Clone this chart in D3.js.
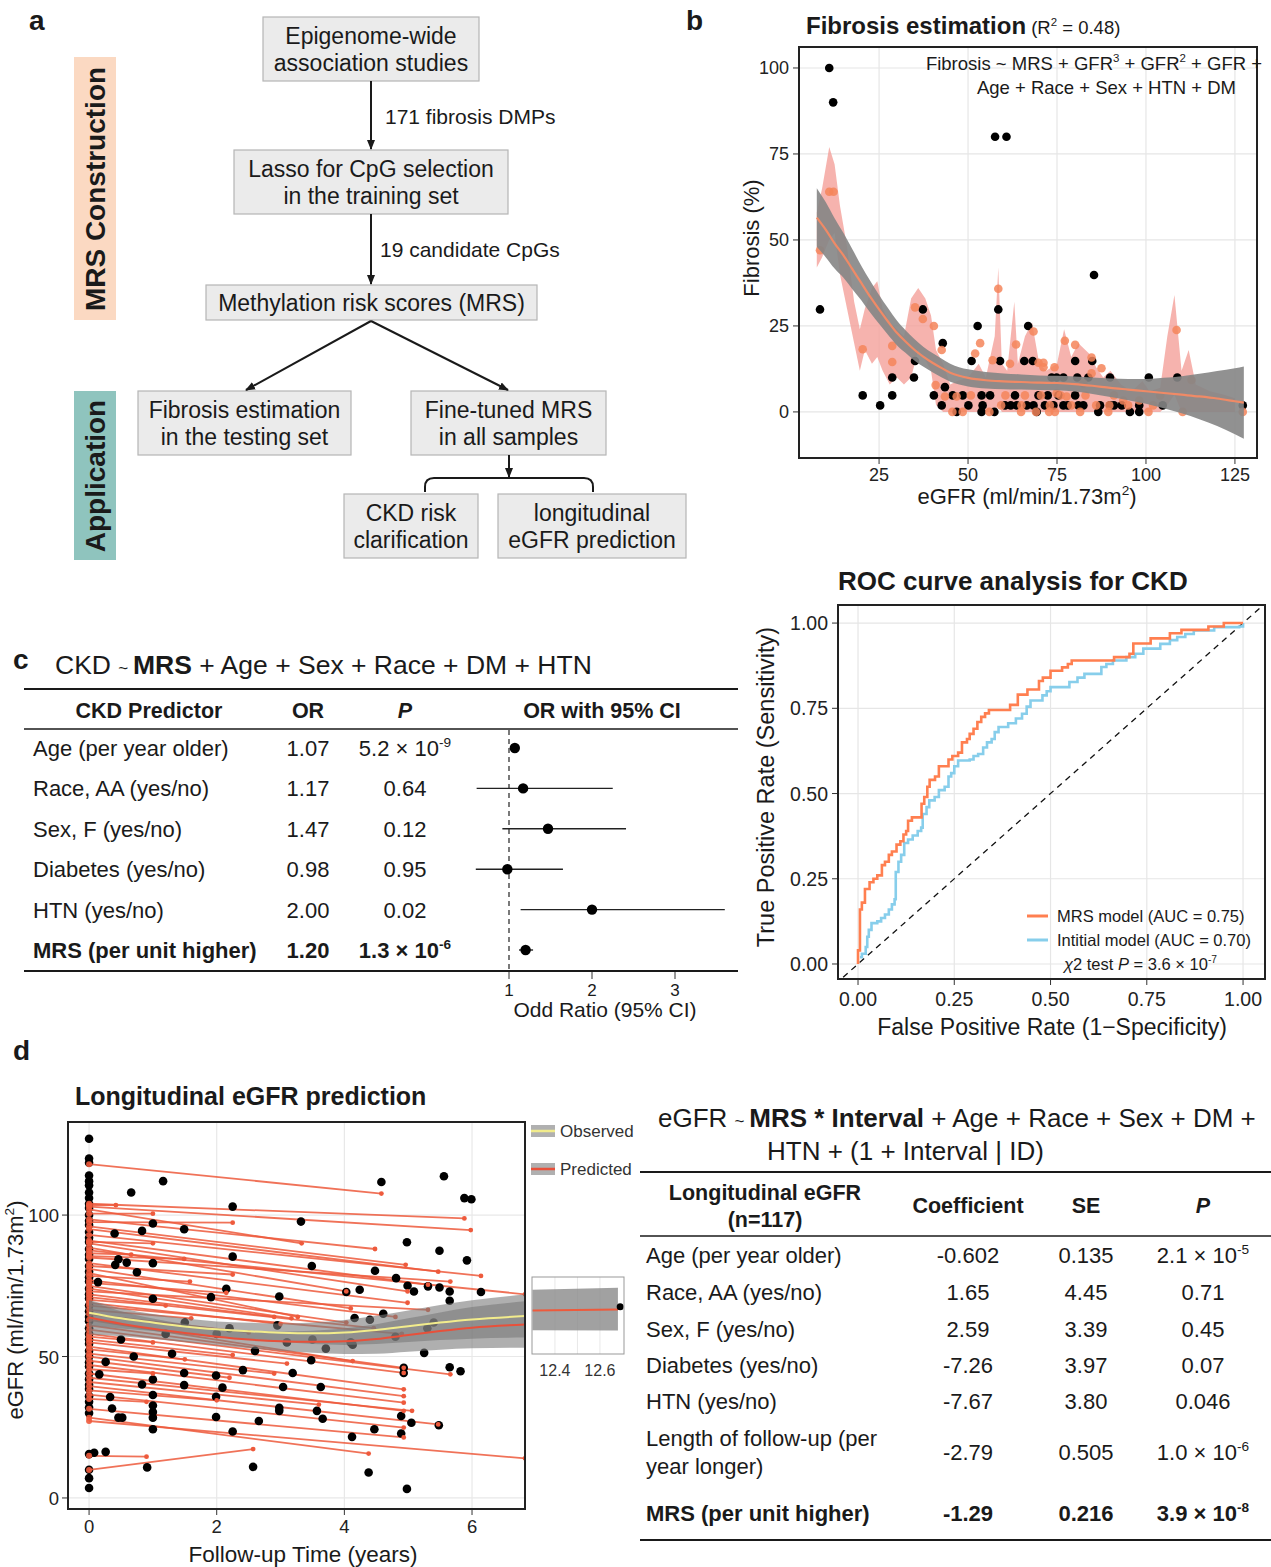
<!DOCTYPE html>
<html>
<head>
<meta charset="utf-8">
<title>MRS figure</title>
<script src="https://d3js.org/d3.v7.min.js"></script>
<style>
  body { margin: 0; background: #fff; }
  svg { display: block; font-family: "Liberation Sans", Arial, Helvetica, sans-serif; }
</style>
</head>
<body>
<svg id="fig"></svg>
<script>
// ---------- panel a: flow chart text ----------
var flowSteps = [
  ["Epigenome-wide", "association studies"],
  ["Lasso for CpG selection", "in the training set"],
  ["Methylation risk scores (MRS)"],
  ["Fibrosis estimation", "in the testing set"],
  ["Fine-tuned MRS", "in all samples"],
  ["CKD risk", "clarification"],
  ["longitudinal", "eGFR prediction"]
];
var flowNotes = ["171 fibrosis DMPs", "19 candidate CpGs"];

// ---------- panel b: fibrosis estimation ----------
var fibObsEgfr = [11, 12.1, 8.4, 57.6, 60.8, 85.4, 20.4, 25.3, 28.7, 28.7, 35.1, 34.8, 37.3, 40.4, 42.6, 42.9,
  43.5, 45.7, 46.8, 48.5, 50.1, 51, 52.7, 53.8, 54.1, 53.8, 56.2, 57.4, 58.5, 59, 60.4, 63.2, 63.7, 65.8, 66.9, 68.2,
  68.4, 69.3, 69.8, 71.6, 72.4, 73.5, 74.9, 75.4, 76.8, 76.8, 80.1, 80.1, 80.7, 82.4, 83.8, 84.9, 86.6, 87.1, 89.9, 89.9,
  93.2, 95.5, 98.1, 98.1, 100.8, 104.7, 108.8, 127.2, 62, 66.5, 74, 78, 81, 91];
var fibObsPct = [100, 90, 29.8, 80, 80, 39.8, 4.8, 1.9, 4.8, 10, 14.8, 10, 29.8, 4.8, 1.9, 20,
  7.2, 4.8, 0, 4.8, 1.9, 14.8, 25, 4.8, 1.9, 0, 4.8, 0, 29.8, 14.8, 1.9, 4.8, 1.9, 14.8, 25, 14.8,
  1.9, 0, 4.8, 1.9, 4.8, 10, 10, 4.8, 10, 1.9, 14.8, 4.8, 10, 1.9, 10, 14.8, 0, 1.9, 10, 1.9,
  1.9, 0, 0, 1.9, 10, 1.9, 10, 1.9, 1.9, 1.9, 1.9, 1.9, 1.9, 1.9];
var fibPredEgfr = [8.4, 11, 12.2, 20.4, 28.7, 28.7, 35.1, 37.3, 40.4, 40.9, 42.6, 43.5, 45.6, 46.8, 48.5, 50.8, 52, 53.4, 56, 56.9,
  58.5, 59.3, 61.8, 63.5, 64.9, 66, 68.4, 69.1, 69.8, 71.2, 71.2, 72.8, 74.3, 74.4, 74.9, 77.2, 77.7, 80.1, 81.5, 82.4,
  84.7, 84.7, 87.5, 89.4, 89.7, 93.6, 98.1, 100.7, 108.6, 110.3, 112.8, 127.2,
  60.5, 65, 70.5, 73, 76, 79, 83, 86, 91, 95, 102, 104];
var fibPredPct = [47, 64, 64, 18.2, 19.2, 14.5, 30.4, 27, 25, 7.8, 18, 4.5, 0, 4.5, 0, 4.8, 17, 20, 0, 15,
  35.8, 1.9, 14, 19.6, 0, 4.8, 23.4, 0, 14.3, 14.3, 13, 0, 13, 0, 5.4, 20.7, 4.5, 19.5, 0, 8.3,
  15.8, 11.2, 12.7, 0, 1.9, 3.3, 3.3, 0, 23.8, 0, 9.3, 0,
  4.8, 1.9, 4.8, 1.9, 4.8, 1.9, 4.8, 1.9, 4.8, 1.9, 1.9, 4.8];
// jagged confidence ribbon of the per-sample prediction
var ribbonEgfr = [7.5, 9, 11, 12.5, 14, 16, 18, 19.6, 21, 23, 24.5, 26, 28, 30, 32, 34, 36, 38, 39.6, 41, 43, 45, 47, 50, 53, 55,
  57.5, 58.5, 59.5, 61, 63, 64, 66, 68, 70, 72, 75, 77, 79, 81, 84, 86, 88, 90, 93, 96, 99, 101, 104, 106, 108, 110, 112, 114, 118, 122, 125];
var ribbonLo = [42, 45, 50, 52, 40, 30, 20, 12, 18, 14, 16, 12, 8, 10, 8, 10, 18, 15, 12, 2, 0, 0, 0, 0, 0, 0,
  0, 2, 0, 0, 0, 0, 0, 0, 0, 0, 0, 0, 0, 0, 0, 0, 0, 0, 0, 0, 0, 0, 0, 2, 5, 0, 0, 0, 0, 0, 0];
var ribbonHi = [58, 65, 77, 72, 60, 48, 32, 24, 30, 36, 38, 30, 26, 24, 22, 33, 36, 33, 28, 18, 14, 8, 9, 10, 14, 10,
  22, 42, 14, 12, 32, 14, 22, 26, 14, 12, 14, 24, 16, 20, 17, 13, 10, 12, 8, 6, 9, 6, 7, 22, 34, 12, 18, 8, 6, 5, 4];
// smooth fit with its standard error band
var smoothEgfr = [7.5, 10, 12.5, 15, 17.5, 20, 22.5, 25, 27.5, 30, 32.5, 35, 37.5, 40, 42.5, 45, 47.5, 50,
  55, 60, 65, 70, 75, 80, 85, 90, 95, 100, 105, 110, 115, 120, 125, 127.5];
var smoothFit = [56.5, 53, 49, 45.5, 41.5, 37.5, 33.5, 29.8, 26.3, 23, 20.4, 18, 16, 14.3, 12.8, 11.4, 10.5, 9.9,
  9.2, 8.9, 8.7, 8.5, 8.4, 8.1, 7.6, 7, 6.5, 6, 5.5, 5, 4.5, 3.9, 3.1, 2.7];
var smoothSe = [8.5, 8, 7.3, 6.5, 5.8, 5, 4.6, 4.2, 3.9, 3.6, 3.3, 3.1, 2.9, 2.8, 2.7, 2.6, 2.5, 2.5,
  2.4, 2.3, 2.2, 2.1, 2.1, 2.2, 2.4, 2.7, 3.1, 3.6, 4.4, 5.4, 6.6, 8, 9.6, 10.5];
var fibXTicks = [25, 50, 75, 100, 125];
var fibYTicks = [0, 25, 50, 75, 100];

// ---------- ROC ----------
var mrsFpr = [0, 0, 0.005, 0.01, 0.018, 0.03, 0.04, 0.05, 0.062, 0.07, 0.08, 0.088, 0.1, 0.11, 0.118, 0.125, 0.13, 0.14,
  0.165, 0.172, 0.18, 0.186, 0.2, 0.21, 0.235, 0.245, 0.26, 0.27, 0.283, 0.29, 0.3, 0.31, 0.32, 0.33, 0.34, 0.395, 0.415,
  0.44, 0.47, 0.48, 0.5, 0.53, 0.545, 0.555, 0.665, 0.705, 0.715, 0.76, 0.81, 0.84, 0.91, 0.95, 1];
var mrsTpr = [0, 0.04, 0.16, 0.18, 0.22, 0.24, 0.25, 0.26, 0.29, 0.30, 0.32, 0.33, 0.35, 0.36, 0.38, 0.39, 0.42, 0.43,
  0.47, 0.49, 0.52, 0.54, 0.55, 0.58, 0.6, 0.61, 0.62, 0.65, 0.66, 0.675, 0.69, 0.71, 0.725, 0.735, 0.745, 0.76, 0.79,
  0.805, 0.83, 0.84, 0.86, 0.87, 0.88, 0.89, 0.9, 0.91, 0.94, 0.955, 0.97, 0.98, 0.99, 1, 1];
var initFpr = [0.005, 0.01, 0.02, 0.024, 0.028, 0.035, 0.05, 0.06, 0.07, 0.08, 0.088, 0.095, 0.098, 0.098, 0.105, 0.112,
  0.12, 0.13, 0.142, 0.155, 0.164, 0.168, 0.178, 0.185, 0.199, 0.21, 0.225, 0.235, 0.242, 0.25, 0.26, 0.29, 0.3, 0.312,
  0.325, 0.335, 0.347, 0.355, 0.365, 0.39, 0.41, 0.426, 0.438, 0.448, 0.479, 0.49, 0.5, 0.549, 0.57, 0.588, 0.632,
  0.645, 0.662, 0.697, 0.72, 0.741, 0.785, 0.81, 0.829, 0.85, 0.872, 0.925, 0.99, 1];
var initTpr = [0.02, 0.03, 0.05, 0.08, 0.1, 0.12, 0.125, 0.135, 0.145, 0.16, 0.175, 0.19, 0.205, 0.27, 0.3, 0.32,
  0.355, 0.365, 0.377, 0.39, 0.40, 0.44, 0.46, 0.48, 0.49, 0.51, 0.52, 0.55, 0.56, 0.58, 0.597, 0.6, 0.61, 0.616,
  0.635, 0.65, 0.66, 0.68, 0.695, 0.706, 0.72, 0.734, 0.755, 0.773, 0.788, 0.8, 0.812, 0.827, 0.84, 0.851, 0.871,
  0.88, 0.89, 0.9, 0.91, 0.925, 0.939, 0.95, 0.959, 0.968, 0.978, 0.988, 0.99, 1];
var rocTicks = [0, 0.25, 0.5, 0.75, 1];

// ---------- panel c: CKD logistic model ----------
var ckdPredictors = ["Age (per year older)", "Race, AA (yes/no)", "Sex, F (yes/no)", "Diabetes (yes/no)", "HTN (yes/no)", "MRS (per unit higher)"];
var ckdOR = [1.07, 1.17, 1.47, 0.98, 2.00, 1.20];
var ckdLo = [1.04, 0.61, 0.92, 0.60, 1.14, 1.12];
var ckdHi = [1.10, 2.25, 2.41, 1.65, 3.60, 1.29];
var ckdP = ["5.2 × 10^-9", "0.64", "0.12", "0.95", "0.02", "1.3 × 10^-6"];
var orTicks = [1, 2, 3];

// ---------- panel d: longitudinal eGFR ----------
var baselineEgfr = [127, 120, 118.5, 114, 112, 110.5, 108, 106, 104, 102.5, 100, 98, 96.5, 94, 92, 90.5, 88, 86, 84.5, 82,
  80, 78, 76.5, 74, 72, 70.5, 68, 66, 64, 62.5, 60, 58, 56, 54.5, 52, 50, 48, 46.5, 44, 42, 40, 38.5, 36, 34, 32, 30,
  15.5, 10, 7, 3.5];
var followTime = [1.16, 0.66, 2.25, 3.32, 1.0, 1.49, 0.83, 0.4, 4.58, 5.56, 5.88, 5.99, 4.98, 5.49, 5.92, 0.46, 0.59, 1.0,
  0.41, 0.75, 2.25, 3.49, 4.48, 4.81, 4.99, 5.09, 5.31, 5.49, 5.65, 6.14, 5.65, 4.03, 4.24, 2.15, 1.91, 2.98, 0.14, 1.0,
  4.61, 4.16, 4.13, 5.25, 3.71, 5.65, 5.82, 4.93, 4.93, 0.26, 0.16, 1.49, 1.49, 0.83, 1.0, 1.0, 1.99, 2.09, 1.99, 2.41,
  3.19, 3.48, 3.04, 3.63, 0.33, 0.36, 0.46, 0.52, 1.0, 1.0, 1.0, 1.0, 1.99, 2.98, 2.98, 3.57, 3.66, 2.66, 2.25, 4.12,
  4.47, 4.89, 4.89, 5.05, 5.48, 0.08, 0.26, 0.91, 2.57, 4.38, 4.98,
  1.5, 2, 2.6, 3.1, 3.5, 4.1, 4.8, 5.3, 1.2, 0.5, 0.7, 1.3, 2.2, 2.95, 4.4, 5.4];
var followEgfr = [112, 108, 103, 97.7, 97, 95, 94.4, 93.5, 111.7, 113.7, 106, 105.6, 90.4, 87.4, 84, 84.4, 83.2, 83,
  82.4, 79.8, 85.3, 82, 80.3, 77.7, 75, 73, 74.8, 74.4, 73, 72.8, 69.7, 72.8, 73.6, 73.9, 71, 71.2, 76.3, 70.4,
  65.1, 63.6, 54.2, 51.3, 52.8, 46.2, 44.8, 46, 44.2, 48.1, 43.7, 44.2, 39.9, 40.1, 41.9, 36.4, 43.3, 39, 35.8, 45.2,
  44.2, 48.7, 39.2, 39.2, 35.7, 31.6, 28.4, 28.4, 32.7, 30.4, 28.4, 24.3, 28.6, 31.9, 30.8, 30.8, 28, 27.2, 23.5, 21.6,
  24.3, 29, 22.8, 26.6, 25.7, 16, 16.3, 10.8, 11, 9, 3.2,
  62, 58, 52, 55, 56, 55, 57, 60, 58, 56, 50, 51, 60, 61, 63, 62];
var predStart = [118, 104, 103, 102, 100.5, 98.5, 103.5, 97.5, 96, 95, 93, 91, 90, 90.5, 88.5, 87.5, 86.5, 85, 85.5, 83,
  82, 81, 79.5, 78.5, 77, 76, 75, 74, 73, 72, 71, 70, 69, 68, 66.5, 65, 63, 61, 59.5, 58, 57, 56, 55, 53.5, 52.5, 51, 50,
  48.5, 47, 45.5, 44, 42.5, 41, 39.5, 38, 36.5, 35, 31.5, 28.4, 27.2, 14.9, 9.9];
var predEndTime = [4.58, 5.88, 5.98, 3.33, 1.0, 4.48, 0.42, 2.25, 4.96, 5.47, 6.14, 5.31, 4.99, 1.0, 4.03, 6.83, 0.66, 5.66,
  1.49, 4.99, 2.25, 4.1, 3.27, 1.58, 4.8, 2.15, 4.03, 3.17, 5.31, 2.9, 4.46, 1.2, 3.0, 4.9, 1.6, 2.5, 4.13, 4.93, 5.66,
  4.93, 1.0, 2.25, 3.1, 4.93, 1.5, 2.9, 4.93, 2.2, 4.93, 1.0, 4.93, 5.06, 3.6, 5.47, 2.0, 4.93, 0.9, 4.93, 4.38, 6.83,
  0.9, 2.57];
var predEnd = [107.6, 98.8, 94.7, 90, 100.5, 88, 103.5, 97.3, 82.4, 80, 78.5, 75.4, 73, 90, 73, 72, 86, 76.5, 84.5, 69,
  79, 67, 64, 76.5, 64, 72.5, 62, 63.5, 66.5, 64, 60, 68, 61.5, 58, 63.5, 58.5, 48.4, 46, 43.7, 44.2, 55, 50.5, 47.5,
  38.4, 49, 44, 36, 42.5, 33.7, 44, 30.8, 30.8, 33, 26, 34.5, 24.9, 34, 21.4, 15.7, 14, 14.6, 17.3];
var smoothTime = [0, 0.5, 1, 1.5, 2, 2.5, 3, 3.5, 4, 4.5, 5, 5.5, 6, 6.83];
var obsSmooth = [65.5, 63.5, 62, 60.6, 59.6, 58.9, 58.4, 58.2, 58.5, 59.4, 60.7, 62, 63.1, 64.3];
var obsSmoothSe = [4.5, 3.6, 3, 2.8, 2.8, 3, 3.3, 3.8, 4.4, 5, 5.6, 6.2, 6.8, 7.6];
var predSmooth = [63.8, 61.6, 59.8, 58.3, 57, 56, 55.4, 55.2, 55.4, 56.2, 57.6, 59, 60.2, 61.3];
var predSmoothSe = [6, 4.4, 3.6, 3.2, 3, 3.1, 3.4, 3.9, 4.5, 5.2, 5.9, 6.6, 7.3, 8.2];
var insetTime = [12.3, 12.68];
var insetFit = [66.3, 66.6];
var insetLo = [59.3, 59.2];
var insetHi = [73.6, 74.3];
var insetPointTime = [12.69];
var insetPointEgfr = [67.6];
var timeTicks = [0, 2, 4, 6];
var egfrTicks = [0, 50, 100];
var insetTicks = [12.4, 12.6];

// ---------- panel d table: mixed model ----------
var lmmTerms = [["Age (per year older)"], ["Race, AA (yes/no)"], ["Sex, F (yes/no)"], ["Diabetes (yes/no)"],
  ["HTN (yes/no)"], ["Length of follow-up (per", "year longer)"], ["MRS (per unit higher)"]];
var lmmCoef = ["-0.602", "1.65", "2.59", "-7.26", "-7.67", "-2.79", "-1.29"];
var lmmSE = ["0.135", "4.45", "3.39", "3.97", "3.80", "0.505", "0.216"];
var lmmP = ["2.1 × 10^-5", "0.71", "0.45", "0.07", "0.046", "1.0 × 10^-6", "3.9 × 10^-8"];

// =====================================================================
var W = 1271, H = 1567;
var INK = "#1a1a1a";
var svg = d3.select("#fig").attr("width", W).attr("height", H);
svg.append("rect").attr("width", W).attr("height", H).attr("fill", "#fff");
var defs = svg.append("defs");
defs.append("marker").attr("id", "arr").attr("viewBox", "0 0 10 10")
  .attr("refX", 9).attr("refY", 5).attr("markerWidth", 5).attr("markerHeight", 5)
  .attr("orient", "auto").append("path").attr("d", "M0,1 L10,5 L0,9 z").attr("fill", INK);

// text made of pieces: [text, flags, size]; flags b=bold i=italic s=superscript
function rich(g, x, y, parts, o) {
  o = o || {};
  var size = o.size || 20;
  var t = g.append("text").attr("x", x).attr("y", y).attr("font-size", size)
    .attr("text-anchor", o.anchor || "start").attr("fill", o.fill || INK);
  if (o.bold) t.attr("font-weight", "bold");
  if (o.transform) t.attr("transform", o.transform);
  var lift = 0;
  parts.forEach(function(p) {
    if (typeof p === "string") p = [p, ""];
    var f = p[1] || "", s = p[2] || size;
    var sp = t.append("tspan").text(p[0]).attr("font-size", s);
    if (f.indexOf("b") >= 0) sp.attr("font-weight", "bold");
    if (f.indexOf("i") >= 0) sp.attr("font-style", "italic");
    if (f.indexOf("s") >= 0) {
      sp.attr("font-size", s * 0.62);
      if (!lift) { lift = s * 0.42; sp.attr("dy", -lift); }
    } else if (lift) { sp.attr("dy", lift); lift = 0; }
  });
  return t;
}
function powParts(s, flags) {
  flags = flags || "";
  var i = s.indexOf("^");
  return i < 0 ? [[s, flags]] : [[s.slice(0, i), flags], [s.slice(i + 1), flags + "s"]];
}
function label(ch, x, y) {
  svg.append("text").attr("x", x).attr("y", y).attr("font-size", 28).attr("font-weight", "bold")
    .attr("fill", INK).text(ch);
}

// ===================== panel a =====================
label("a", 29, 30);
var ga = svg.append("g");
var boxPos = [[263, 17, 216, 64], [234, 150, 274, 64], [206, 285, 331, 35], [138, 391, 213, 64],
  [411, 391, 195, 64], [344, 494, 134, 64], [498, 494, 188, 64]];
flowSteps.forEach(function(lines, i) {
  var b = boxPos[i];
  ga.append("rect").attr("x", b[0]).attr("y", b[1]).attr("width", b[2]).attr("height", b[3])
    .attr("fill", "#ebebeb").attr("stroke", "#b5b5b5").attr("stroke-width", 1.2);
  lines.forEach(function(l, j) {
    var y = lines.length === 1 ? b[1] + 26 : b[1] + 27 + j * 27;
    ga.append("text").attr("x", b[0] + b[2] / 2).attr("y", y).attr("text-anchor", "middle")
      .attr("font-size", 23).attr("fill", INK).text(l);
  });
});
function arrow(x1, y1, x2, y2) {
  ga.append("line").attr("x1", x1).attr("y1", y1).attr("x2", x2).attr("y2", y2)
    .attr("stroke", INK).attr("stroke-width", 2).attr("marker-end", "url(#arr)");
}
arrow(371, 81, 371, 149);
arrow(371, 214, 371, 284);
arrow(371, 321, 246, 390);
arrow(371, 321, 508, 390);
arrow(509, 455, 509, 477);
ga.append("path").attr("d", "M425,492 L425,487 Q425,478 434,478 L584,478 Q593,478 593,487 L593,492")
  .attr("fill", "none").attr("stroke", INK).attr("stroke-width", 2);
ga.append("text").attr("x", 385).attr("y", 124).attr("font-size", 21).attr("fill", INK).text(flowNotes[0]);
ga.append("text").attr("x", 380).attr("y", 257).attr("font-size", 21).attr("fill", INK).text(flowNotes[1]);
ga.append("rect").attr("x", 74).attr("y", 57).attr("width", 42).attr("height", 263).attr("fill", "#fbd9c2");
ga.append("text").attr("transform", "translate(105,189) rotate(-90)").attr("text-anchor", "middle")
  .attr("font-size", 28).attr("font-weight", "bold").attr("fill", INK).text("MRS Construction");
ga.append("rect").attr("x", 74).attr("y", 391).attr("width", 42).attr("height", 169).attr("fill", "#8fc4be");
ga.append("text").attr("transform", "translate(105,476) rotate(-90)").attr("text-anchor", "middle")
  .attr("font-size", 28).attr("font-weight", "bold").attr("fill", INK).text("Application");

// ===================== panel b =====================
label("b", 686, 30);
var gb = svg.append("g");
var xB = d3.scaleLinear().domain([2.5, 131.2]).range([799, 1257]);
var yB = d3.scaleLinear().domain([-13.4, 106.1]).range([458, 47]);
gb.append("clipPath").attr("id", "clipB").append("rect").attr("x", 799).attr("y", 47).attr("width", 458).attr("height", 411);
fibXTicks.forEach(function(v) {
  gb.append("line").attr("x1", xB(v)).attr("x2", xB(v)).attr("y1", 47).attr("y2", 458).attr("stroke", "#e6e6e6").attr("stroke-width", 1.2);
});
fibYTicks.forEach(function(v) {
  gb.append("line").attr("y1", yB(v)).attr("y2", yB(v)).attr("x1", 799).attr("x2", 1257).attr("stroke", "#e6e6e6").attr("stroke-width", 1.2);
});
var pb = gb.append("g").attr("clip-path", "url(#clipB)");
pb.append("path").datum(ribbonEgfr)
  .attr("d", d3.area().x(function(d) { return xB(d); })
    .y0(function(d, i) { return yB(ribbonLo[i]); }).y1(function(d, i) { return yB(ribbonHi[i]); }))
  .attr("fill", "#f4a09a").attr("opacity", 0.8);
pb.selectAll("circle.obs").data(fibObsEgfr).enter().append("circle")
  .attr("cx", function(d) { return xB(d); }).attr("cy", function(d, i) { return yB(fibObsPct[i]); })
  .attr("r", 4.3).attr("fill", "#000");
pb.selectAll("circle.pred").data(fibPredEgfr).enter().append("circle")
  .attr("cx", function(d) { return xB(d); }).attr("cy", function(d, i) { return yB(fibPredPct[i]); })
  .attr("r", 4.3).attr("fill", "#f5855a").attr("opacity", 0.85);
pb.append("path").datum(smoothEgfr)
  .attr("d", d3.area().curve(d3.curveMonotoneX).x(function(d) { return xB(d); })
    .y0(function(d, i) { return yB(smoothFit[i] - smoothSe[i]); }).y1(function(d, i) { return yB(smoothFit[i] + smoothSe[i]); }))
  .attr("fill", "#858585").attr("opacity", 0.9);
pb.append("path").datum(smoothEgfr)
  .attr("d", d3.line().curve(d3.curveMonotoneX).x(function(d) { return xB(d); }).y(function(d, i) { return yB(smoothFit[i]); }))
  .attr("fill", "none").attr("stroke", "#f08a66").attr("stroke-width", 2.2);
gb.append("rect").attr("x", 799).attr("y", 47).attr("width", 458).attr("height", 411)
  .attr("fill", "none").attr("stroke", "#222").attr("stroke-width", 2);
fibXTicks.forEach(function(v) {
  gb.append("line").attr("x1", xB(v)).attr("x2", xB(v)).attr("y1", 459).attr("y2", 464).attr("stroke", "#333");
  gb.append("text").attr("x", xB(v)).attr("y", 481).attr("text-anchor", "middle").attr("font-size", 18).attr("fill", "#222").text(v);
});
fibYTicks.forEach(function(v) {
  gb.append("line").attr("x1", 793).attr("x2", 798).attr("y1", yB(v)).attr("y2", yB(v)).attr("stroke", "#333");
  gb.append("text").attr("x", 789).attr("y", yB(v) + 6).attr("text-anchor", "end").attr("font-size", 18).attr("fill", "#222").text(v);
});
rich(gb, 806, 34, [["Fibrosis estimation", "b", 24], [" (R", "", 18.5], ["2", "s", 18.5], [" = 0.48)", "", 18.5]]);
gb.append("text").attr("transform", "translate(759,238) rotate(-90)").attr("text-anchor", "middle")
  .attr("font-size", 22).attr("fill", INK).text("Fibrosis (%)");
rich(gb, 1027, 504, ["eGFR (ml/min/1.73m", ["2", "s"], ")"], { size: 22, anchor: "middle" });
rich(gb, 1262, 70, ["Fibrosis ~ MRS + GFR", ["3", "s"], " + GFR", ["2", "s"], " + GFR +"], { size: 18.5, anchor: "end" });
rich(gb, 1236, 94, ["Age + Race + Sex + HTN + DM"], { size: 18.5, anchor: "end" });

// ===================== ROC =====================
var gr = svg.append("g");
var xR = d3.scaleLinear().domain([-0.052, 1.057]).range([838, 1265]);
var yR = d3.scaleLinear().domain([-0.044, 1.053]).range([979, 605]);
gr.append("clipPath").attr("id", "clipR").append("rect").attr("x", 838).attr("y", 605).attr("width", 427).attr("height", 374);
rocTicks.forEach(function(v) {
  gr.append("line").attr("x1", xR(v)).attr("x2", xR(v)).attr("y1", 605).attr("y2", 979).attr("stroke", "#e6e6e6").attr("stroke-width", 1.2);
  gr.append("line").attr("y1", yR(v)).attr("y2", yR(v)).attr("x1", 838).attr("x2", 1265).attr("stroke", "#e6e6e6").attr("stroke-width", 1.2);
});
var pr = gr.append("g").attr("clip-path", "url(#clipR)");
pr.append("line").attr("x1", xR(-0.06)).attr("y1", yR(-0.06)).attr("x2", xR(1.06)).attr("y2", yR(1.06))
  .attr("stroke", "#111").attr("stroke-width", 1.3).attr("stroke-dasharray", "6,5");
var rocLine = function(xs, ys) {
  return d3.line().curve(d3.curveStepAfter).x(function(d) { return xR(d); }).y(function(d, i) { return yR(ys[i]); })(xs);
};
pr.append("path").attr("d", rocLine(initFpr, initTpr)).attr("fill", "none").attr("stroke", "#87ceeb").attr("stroke-width", 2.6);
pr.append("path").attr("d", rocLine(mrsFpr, mrsTpr)).attr("fill", "none").attr("stroke", "#ff7f50").attr("stroke-width", 2.6);
gr.append("rect").attr("x", 838).attr("y", 605).attr("width", 427).attr("height", 374)
  .attr("fill", "none").attr("stroke", "#222").attr("stroke-width", 2);
rocTicks.forEach(function(v) {
  var s = d3.format(".2f")(v);
  gr.append("line").attr("x1", xR(v)).attr("x2", xR(v)).attr("y1", 980).attr("y2", 985).attr("stroke", "#333");
  gr.append("text").attr("x", xR(v)).attr("y", 1006).attr("text-anchor", "middle").attr("font-size", 19.5).attr("fill", "#222").text(s);
  gr.append("line").attr("x1", 832).attr("x2", 837).attr("y1", yR(v)).attr("y2", yR(v)).attr("stroke", "#333");
  gr.append("text").attr("x", 828).attr("y", yR(v) + 7).attr("text-anchor", "end").attr("font-size", 19.5).attr("fill", "#222").text(s);
});
gr.append("text").attr("x", 838).attr("y", 590).attr("font-size", 26).attr("font-weight", "bold").attr("fill", INK).text("ROC curve analysis for CKD");
gr.append("text").attr("transform", "translate(774,787) rotate(-90)").attr("text-anchor", "middle")
  .attr("font-size", 23.5).attr("fill", INK).text("True Positive Rate (Sensitivity)");
gr.append("text").attr("x", 1052).attr("y", 1035).attr("text-anchor", "middle")
  .attr("font-size", 23).attr("fill", INK).text("False Positive Rate (1\u2212Specificity)");
[["#ff7f50", "MRS model (AUC = 0.75)", 916], ["#87ceeb", "Intitial model (AUC = 0.70)", 940]].forEach(function(k) {
  gr.append("line").attr("x1", 1027).attr("x2", 1048).attr("y1", k[2]).attr("y2", k[2]).attr("stroke", k[0]).attr("stroke-width", 3);
  gr.append("text").attr("x", 1057).attr("y", k[2] + 6).attr("font-size", 16.5).attr("fill", INK).text(k[1]);
});
rich(gr, 1064, 970, [["\u03c7", "i"], "2 test ", ["P", "i"], " = 3.6 × 10", ["-7", "s"]], { size: 16.5 });

// ===================== panel c =====================
label("c", 13, 669);
var gc = svg.append("g");
rich(gc, 55, 674, ["CKD  ", ["~ ", "", 17], ["MRS", "b"], " + Age + Sex + Race + DM + HTN"], { size: 26.5 });
gc.append("line").attr("x1", 24).attr("x2", 738).attr("y1", 689).attr("y2", 689).attr("stroke", INK).attr("stroke-width", 2);
gc.append("line").attr("x1", 24).attr("x2", 738).attr("y1", 729).attr("y2", 729).attr("stroke", INK).attr("stroke-width", 1.5);
gc.append("line").attr("x1", 24).attr("x2", 738).attr("y1", 971).attr("y2", 971).attr("stroke", INK).attr("stroke-width", 2);
[["CKD Predictor", 149, ""], ["OR", 308, ""], ["P", 405, "i"], ["OR with 95% CI", 602, ""]].forEach(function(h) {
  rich(gc, h[1], 718, [[h[0], "b" + h[2]]], { size: 21.5, anchor: "middle" });
});
var rowY = d3.scalePoint().domain(d3.range(ckdPredictors.length)).range([748, 950]);
var xF = d3.scaleLinear().domain([1, 3]).range([509, 675]);
gc.append("line").attr("x1", xF(1)).attr("x2", xF(1)).attr("y1", 730).attr("y2", 971)
  .attr("stroke", "#333").attr("stroke-width", 1.3).attr("stroke-dasharray", "5,4");
ckdPredictors.forEach(function(name, i) {
  var y = rowY(i), bold = i === ckdPredictors.length - 1 ? "b" : "";
  rich(gc, 33, y + 8, [[name, bold]], { size: 22 });
  rich(gc, 308, y + 8, [[d3.format(".2f")(ckdOR[i]), bold]], { size: 22, anchor: "middle" });
  rich(gc, 405, y + 8, powParts(ckdP[i], bold), { size: 22, anchor: "middle" });
  gc.append("line").attr("x1", xF(ckdLo[i])).attr("x2", xF(ckdHi[i])).attr("y1", y).attr("y2", y)
    .attr("stroke", "#222").attr("stroke-width", 1.4);
  gc.append("circle").attr("cx", xF(ckdOR[i])).attr("cy", y).attr("r", 5.2).attr("fill", "#000");
});
orTicks.forEach(function(v) {
  gc.append("line").attr("x1", xF(v)).attr("x2", xF(v)).attr("y1", 972).attr("y2", 979).attr("stroke", "#333");
  gc.append("text").attr("x", xF(v)).attr("y", 996).attr("text-anchor", "middle").attr("font-size", 17).attr("fill", INK).text(v);
});
gc.append("text").attr("x", 605).attr("y", 1017).attr("text-anchor", "middle").attr("font-size", 21).attr("fill", INK).text("Odd Ratio (95% CI)");

// ===================== panel d =====================
label("d", 13, 1060);
var gd = svg.append("g");
var xD = d3.scaleLinear().domain([-0.33, 6.83]).range([68, 525]);
var yD = d3.scaleLinear().domain([-3.9, 132.9]).range([1509, 1122]);
gd.append("clipPath").attr("id", "clipD").append("rect").attr("x", 68).attr("y", 1122).attr("width", 457).attr("height", 387);
timeTicks.forEach(function(v) {
  gd.append("line").attr("x1", xD(v)).attr("x2", xD(v)).attr("y1", 1122).attr("y2", 1509).attr("stroke", "#e8e8e8").attr("stroke-width", 1.2);
});
egfrTicks.forEach(function(v) {
  gd.append("line").attr("y1", yD(v)).attr("y2", yD(v)).attr("x1", 68).attr("x2", 525).attr("stroke", "#e8e8e8").attr("stroke-width", 1.2);
});
var pd = gd.append("g").attr("clip-path", "url(#clipD)");
pd.selectAll("circle.base").data(baselineEgfr).enter().append("circle")
  .attr("cx", xD(0)).attr("cy", function(d) { return yD(d); }).attr("r", 4.3).attr("fill", "#000");
pd.selectAll("line.pred").data(predStart).enter().append("line")
  .attr("x1", xD(0)).attr("y1", function(d) { return yD(d); })
  .attr("x2", function(d, i) { return xD(predEndTime[i]); }).attr("y2", function(d, i) { return yD(predEnd[i]); })
  .attr("stroke", "#ee5a3c").attr("stroke-width", 1.8).attr("opacity", 0.85);
pd.selectAll("circle.fu").data(followTime).enter().append("circle")
  .attr("cx", function(d) { return xD(d); }).attr("cy", function(d, i) { return yD(followEgfr[i]); })
  .attr("r", 4.3).attr("fill", "#000");
pd.selectAll("circle.pend").data(predEndTime).enter().append("circle")
  .attr("cx", function(d) { return xD(d); }).attr("cy", function(d, i) { return yD(predEnd[i]); })
  .attr("r", 2.4).attr("fill", "#ee5a3c");
pd.selectAll("circle.pstart").data(predStart).enter().append("circle")
  .attr("cx", xD(0)).attr("cy", function(d) { return yD(d); })
  .attr("r", 3).attr("fill", "#ee5a3c").attr("opacity", 0.9);
function band(fit, se) {
  return d3.area().curve(d3.curveMonotoneX).x(function(d) { return xD(d); })
    .y0(function(d, i) { return yD(fit[i] - se[i]); }).y1(function(d, i) { return yD(fit[i] + se[i]); })(smoothTime);
}
pd.append("path").attr("d", band(obsSmooth, obsSmoothSe)).attr("fill", "#7a7a7a").attr("opacity", 0.6);
pd.append("path").attr("d", band(predSmooth, predSmoothSe)).attr("fill", "#7a7a7a").attr("opacity", 0.6);
var sLine = function(fit) {
  return d3.line().curve(d3.curveMonotoneX).x(function(d) { return xD(d); }).y(function(d, i) { return yD(fit[i]); })(smoothTime);
};
pd.append("path").attr("d", sLine(obsSmooth)).attr("fill", "none").attr("stroke", "#f2ec8c").attr("stroke-width", 2);
pd.append("path").attr("d", sLine(predSmooth)).attr("fill", "none").attr("stroke", "#e8503a").attr("stroke-width", 2);
gd.append("rect").attr("x", 68).attr("y", 1122).attr("width", 457).attr("height", 387)
  .attr("fill", "none").attr("stroke", "#222").attr("stroke-width", 2);
timeTicks.forEach(function(v) {
  gd.append("line").attr("x1", xD(v)).attr("x2", xD(v)).attr("y1", 1510).attr("y2", 1515).attr("stroke", "#333");
  gd.append("text").attr("x", xD(v)).attr("y", 1533).attr("text-anchor", "middle").attr("font-size", 18.5).attr("fill", "#222").text(v);
});
egfrTicks.forEach(function(v) {
  gd.append("line").attr("x1", 62).attr("x2", 67).attr("y1", yD(v)).attr("y2", yD(v)).attr("stroke", "#333");
  gd.append("text").attr("x", 59).attr("y", yD(v) + 7).attr("text-anchor", "end").attr("font-size", 18.5).attr("fill", "#222").text(v);
});
gd.append("text").attr("x", 75).attr("y", 1105).attr("font-size", 25).attr("font-weight", "bold").attr("fill", INK).text("Longitudinal eGFR prediction");
rich(gd, 303, 1562, ["Follow-up Time (years)"], { size: 22.5, anchor: "middle" });
rich(gd, 0, 0, ["eGFR (ml/min/1.73m", ["2", "s"], ")"], { size: 22, anchor: "middle", transform: "translate(23,1310) rotate(-90)" });
// legend
[["Observed", "#f2ec8c", 1131], ["Predicted", "#e8503a", 1169]].forEach(function(k) {
  gd.append("rect").attr("x", 531).attr("y", k[2] - 6).attr("width", 24).attr("height", 12).attr("fill", "#b0b0b0");
  gd.append("line").attr("x1", 531).attr("x2", 555).attr("y1", k[2]).attr("y2", k[2]).attr("stroke", k[1]).attr("stroke-width", 2.5);
  gd.append("text").attr("x", 560).attr("y", k[2] + 6).attr("font-size", 17).attr("fill", "#333").text(k[0]);
});
// inset for the late time point
var xI = d3.scaleLinear().domain([12.298, 12.707]).range([532, 624]);
gd.append("clipPath").attr("id", "clipI").append("rect").attr("x", 532).attr("y", 1277).attr("width", 92).attr("height", 77);
[12.4, 12.5, 12.6].forEach(function(v) {
  gd.append("line").attr("x1", xI(v)).attr("x2", xI(v)).attr("y1", 1277).attr("y2", 1354).attr("stroke", "#e8e8e8");
});
var pi = gd.append("g").attr("clip-path", "url(#clipI)");
pi.append("path").datum(insetTime)
  .attr("d", d3.area().x(function(d) { return xI(d); })
    .y0(function(d, i) { return yD(insetLo[i]); }).y1(function(d, i) { return yD(insetHi[i]); }))
  .attr("fill", "#8a8a8a").attr("opacity", 0.8);
pi.append("path").datum(insetTime)
  .attr("d", d3.line().x(function(d) { return xI(d); }).y(function(d, i) { return yD(insetFit[i]); }))
  .attr("stroke", "#ee5a3c").attr("stroke-width", 2).attr("fill", "none");
pi.selectAll("circle").data(insetPointTime).enter().append("circle")
  .attr("cx", function(d) { return xI(d); }).attr("cy", function(d, i) { return yD(insetPointEgfr[i]); })
  .attr("r", 3.5).attr("fill", "#000");
gd.append("rect").attr("x", 532).attr("y", 1277).attr("width", 92).attr("height", 77)
  .attr("fill", "none").attr("stroke", "#999").attr("stroke-width", 1);
insetTicks.forEach(function(v) {
  gd.append("text").attr("x", xI(v)).attr("y", 1376).attr("text-anchor", "middle").attr("font-size", 16).attr("fill", "#333").text(v);
});

// ===================== panel d table =====================
var gt = svg.append("g");
rich(gt, 658, 1127, ["eGFR  ", ["~ ", "", 17], ["MRS * Interval", "b"], " + Age + Race + Sex + DM +"], { size: 26 });
rich(gt, 767, 1160, ["HTN + (1 + Interval | ID)"], { size: 26 });
gt.append("line").attr("x1", 640).attr("x2", 1271).attr("y1", 1172).attr("y2", 1172).attr("stroke", INK).attr("stroke-width", 2);
gt.append("line").attr("x1", 640).attr("x2", 1271).attr("y1", 1236).attr("y2", 1236).attr("stroke", INK).attr("stroke-width", 1.5);
gt.append("line").attr("x1", 640).attr("x2", 1271).attr("y1", 1540).attr("y2", 1540).attr("stroke", INK).attr("stroke-width", 2);
rich(gt, 765, 1200, [["Longitudinal eGFR", "b"]], { size: 21.5, anchor: "middle" });
rich(gt, 765, 1227, [["(n=117)", "b"]], { size: 21.5, anchor: "middle" });
rich(gt, 968, 1213, [["Coefficient", "b"]], { size: 21.5, anchor: "middle" });
rich(gt, 1086, 1213, [["SE", "b"]], { size: 21.5, anchor: "middle" });
rich(gt, 1203, 1213, [["P", "bi"]], { size: 21.5, anchor: "middle" });
var lmmRowY = [1255, 1292, 1329, 1365, 1401, 1452, 1513];
lmmTerms.forEach(function(lines, i) {
  var y = lmmRowY[i], bold = i === lmmTerms.length - 1 ? "b" : "";
  lines.forEach(function(l, j) {
    var ly = lines.length === 1 ? y : y - 14 + j * 28;
    rich(gt, 646, ly + 8, [[l, bold]], { size: 22 });
  });
  rich(gt, 968, y + 8, [[lmmCoef[i], bold]], { size: 22, anchor: "middle" });
  rich(gt, 1086, y + 8, [[lmmSE[i], bold]], { size: 22, anchor: "middle" });
  rich(gt, 1203, y + 8, powParts(lmmP[i], bold), { size: 22, anchor: "middle" });
});
</script>
</body>
</html>
